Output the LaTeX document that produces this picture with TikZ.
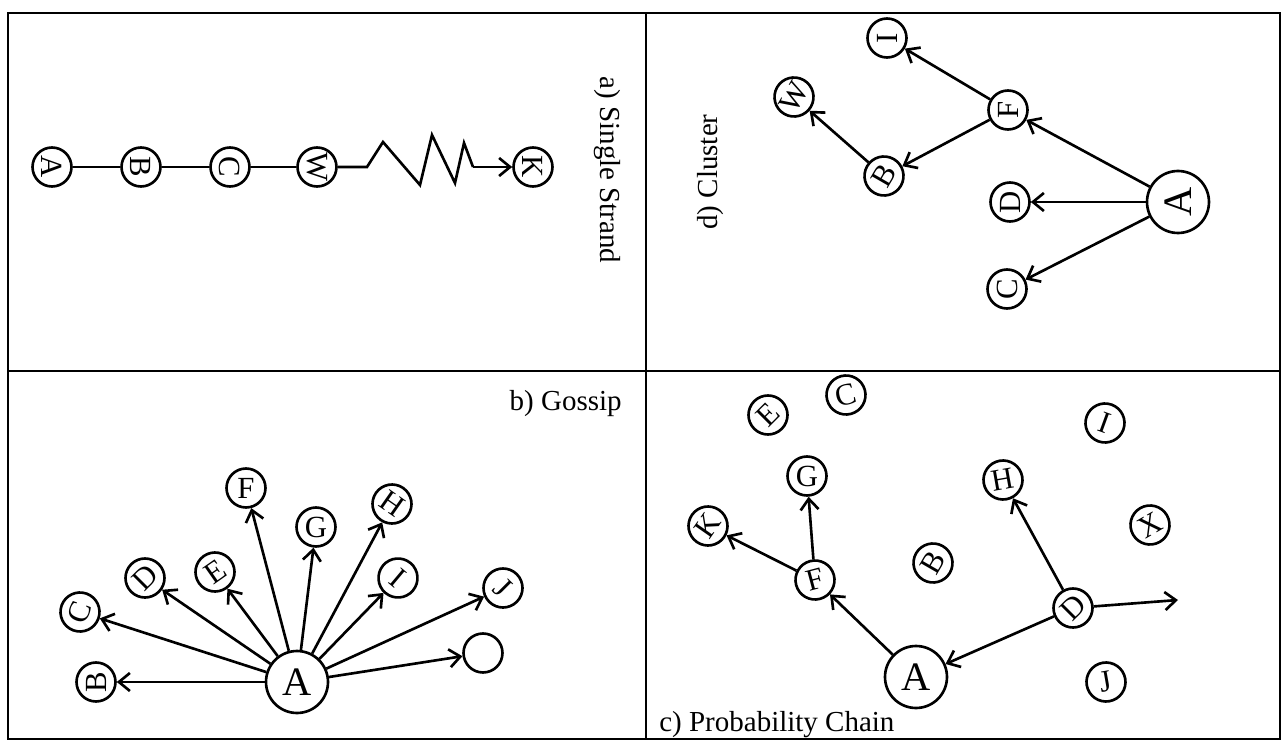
\documentclass[tikz,border=0pt]{standalone}
\usepackage{fontspec}
\setmainfont{Liberation Serif}
\usetikzlibrary{automata}
\usetikzlibrary{arrows.meta}
\tikzset{
every state/.style={ % Circles round the letters
line width=1.5pt,
minimum size=0.78cm,
inner sep=0pt,
font=\fontsize{17.5}{20}\selectfont},
hub/.style={minimum size=1.24cm, font=\fontsize{23}{26}\selectfont}, % Larger centre circle
>={Straight Barb[length=2.2mm,width=3.6mm]},
every edge/.style={ % Sets the properties for each link
draw,
->,
line width=1.5pt},
wire/.style={line width=1.5pt},
paneltitle/.style={font=\fontsize{16.5}{20}\selectfont, inner sep=0pt}}

\begin{document}
\begin{tikzpicture}[x=0.02cm, y=-0.02cm]
\path[use as bounding box, fill=white] (0,0) rectangle (1286,740);
\draw[line width=1.4pt] (8,13) rectangle (1280,739);
\draw[line width=1.4pt] (646,13) -- (646,739);
\draw[line width=1.4pt] (8,371) -- (1280,371);

% a) Single Strand
\node[paneltitle, rotate=-90] (ttlA) at (607,170) {a) Single Strand};
\node[state, rotate=-90] (sA) at (52,167) {A};
\node[state, rotate=-90] (sB) at (141,167) {B};
\node[state, rotate=-90] (sC) at (230,167) {C};
\node[state, rotate=-90] (sW) at (317,167) {W};
\node[state, rotate=-90] (sK) at (533,167) {K};
\draw[wire] (sA) -- (sB) -- (sC) -- (sW);
\draw[wire] (sW) -- (367,167) -- (383,142) -- (420,185) -- (432,135)
  -- (455,183) -- (464,143) -- (473,167) edge (sK);

% d) Cluster
\node[paneltitle, rotate=90] (ttlD) at (711,172) {d) Cluster};
\node[state, rotate=90] (cI) at (887,38) {I};
\node[state, rotate=60] (cW) at (794,97) {W};
\node[state, rotate=90] (cF) at (1008,110) {F};
\node[state, rotate=60] (cB) at (884,176) {B};
\node[state, rotate=90] (cD) at (1010,202) {D};
\node[state, hub, rotate=90] (cA) at (1178,202) {A};
\node[state, rotate=90] (cC) at (1007,289) {C};
\draw (cA) edge (cF) edge (cD) edge (cC);
\draw (cF) edge (cI) edge (cB);
\draw (cB) edge (cW);

% b) Gossip
\node[paneltitle, anchor=base east] (ttlB) at (622,410) {b) Gossip};
\node[state, hub] (gA) at (297,682) {A};
\node[state, rotate=90] (gB) at (96,682) {B};
\node[state, rotate=70] (gC) at (80,612) {C};
\node[state, rotate=45] (gD) at (145,578) {D};
\node[state, rotate=35] (gE) at (215,572) {E};
\node[state] (gF) at (246,488) {F};
\node[state] (gG) at (316,527) {G};
\node[state, rotate=-35] (gH) at (392,504) {H};
\node[state, rotate=-40] (gI) at (398,578) {I};
\node[state, rotate=-45] (gJ) at (503,588) {J};
\node[state] (gO) at (483,653) {};
\draw (gA) edge (gB) edge (gC) edge (gD) edge (gE) edge (gF)
  edge (gG) edge (gH) edge (gI) edge (gJ) edge (gO);

% c) Probability Chain
\node[paneltitle, anchor=base west] (ttlC) at (659,731) {c) Probability Chain};
\node[state, rotate=15] (pC) at (846,395) {C};
\node[state, rotate=45] (pE) at (768,415) {E};
\node[state, rotate=-20] (pI) at (1105,423) {I};
\node[state] (pG) at (807,476) {G};
\node[state, rotate=10] (pH) at (1003,480) {H};
\node[state, rotate=55] (pK) at (708,526) {K};
\node[state, rotate=30] (pX) at (1150,525) {X};
\node[state, rotate=60] (pB) at (933,563) {B};
\node[state, rotate=15] (pF) at (815,580) {F};
\node[state, rotate=45] (pD) at (1073,608) {D};
\node[state, hub] (pA) at (916,677) {A};
\node[state, rotate=10] (pJ) at (1106,682) {J};
\coordinate (pOut) at (1178,600);
\draw (pA) edge (pF);
\draw (pD) edge (pA) edge (pH) edge (pOut);
\draw (pF) edge (pG) edge (pK);
\end{tikzpicture}
\end{document}
